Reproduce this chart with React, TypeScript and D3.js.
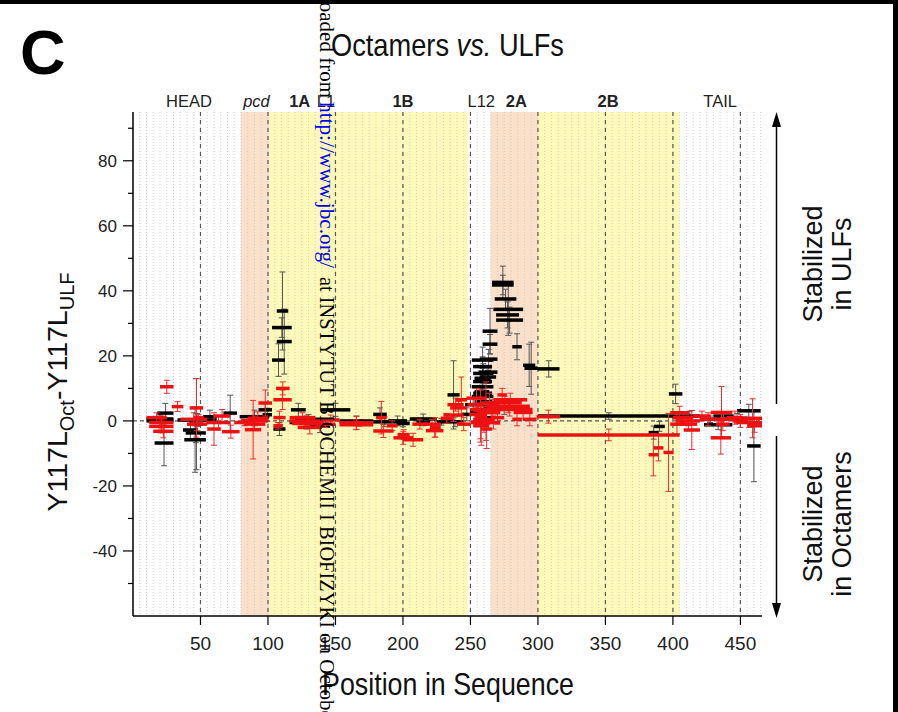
import React from 'react';
import * as d3 from 'd3';

// ---------- data ----------
// [start residue, end residue, difference value, error]
const octBlack: [number, number, number, number][] = [
  [10, 30, 0.6, 2], [10, 30, 0, 1.5], [18, 30, 2.4, 3], [16, 30, -6.8, 7],
  [33, 62, 0.3, 2], [37, 48, -2.8, 3], [39, 54, -3.7, 3], [38, 54, -5.8, 10],
  [52, 62, 1.3, 2], [42, 52, -1, 14], [67, 77, 2.4, 5.5], [79, 101, 1.3, 2],
  [93, 103, 3.4, 2], [96, 103, 1.9, 2],
  [106.5, 115, 33.8, 12], [103, 117.6, 28.7, 3], [106.5, 117.6, 24.4, 10], [103, 112.6, 18.7, 5],
  [104, 113, -2.5, 2], [117, 128, 3.4, 2], [116, 141, -0.5, 2], [131, 146, -1.6, 2],
  [139, 161, 3.4, 2], [120, 140, 0.5, 1.5],
  [153, 178, 0, 1.5], [178, 188, 2, 2], [178, 195, -0.3, 1.5], [189, 203, 0, 1.5],
  [195, 205, -0.8, 1], [205, 225, 0.6, 1.5], [210, 220, -0.5, 1], [225, 232, -0.3, 1],
  [232, 245, -0.3, 1.5], [233, 242, 8, 10.5], [243.6, 251, 2, 2], [160, 175, -0.6, 1],
  [251, 267, 18.7, 4], [252, 266, 16.7, 3], [252, 267, 14.6, 3], [253, 265, 13.1, 3],
  [252, 266, 12.1, 2], [251, 267, 10.5, 3], [253, 264, 9, 2], [252, 266, 8.5, 2],
  [251, 267, 7.5, 2], [253, 266, 5.9, 2], [259, 270, 27.6, 7], [259, 270, 23.6, 3],
  [257, 270, 19, 3], [256, 270, 15, 2], [257, 269, 13.5, 2],
  [266, 282, 42.6, 5], [266, 282, 41.8, 3], [268, 284, 37.5, 3], [267, 289, 34.3, 8],
  [269, 286, 32.6, 4], [269, 289, 31, 4], [281, 288, 22.8, 4], [289, 298, 17.1, 6.5],
  [290, 300, 16.2, 8], [300, 316, 16, 2.5], [268, 282, 4, 2], [250, 262, 3, 2],
  [255, 268, 1, 2], [260, 272, 4.5, 2], [246, 258, 5, 2],
  [300, 405, 1.5, 1], [386, 394, -1.7, 1.5], [382, 389.5, -3.6, 2], [397, 407, 8.3, 3],
  [405, 420, 1.5, 1.5], [423, 444, -1.2, 1.5], [420, 435, 0.5, 1], [447.5, 465, 3.1, 2],
  [455, 465, -7.7, 11], [440, 455, 0.8, 1.5], [430, 445, 1.5, 1],
];

const ulfRed: [number, number, number, number][] = [
  [20, 30, 10.5, 2], [12, 30, -0.5, 2], [12, 30, -1.7, 2], [15, 30, -3.2, 2],
  [10, 25, 1, 1.5], [28.7, 37.3, 4.4, 1.5], [42, 52, 4, 9], [35, 55, 0.5, 2],
  [40, 55, -1, 2], [54.6, 72, -0.5, 2], [66, 79, -3.3, 2], [55, 65, -2.5, 5],
  [60, 72, 1.5, 2], [80, 100, 0, 1.5], [82, 98, -1, 1.5], [83, 95, -2.7, 9],
  [93, 103, 5.5, 4], [85, 100, 0.8, 2], [75, 90, -0.5, 1], [45, 52, 1, 1],
  [104, 117.6, 6.5, 3], [106, 116, 10, 2], [104, 113, 1, 2], [104, 111, -1.5, 1],
  [116, 141, 0, 1.5], [116, 135, 1, 1.5], [118, 141, -0.8, 1.5], [122, 140, -2, 2],
  [135, 150, -1, 1], [140, 153, 0.3, 1.5],
  [153, 178, -0.6, 2], [153, 178, -1.2, 1.5], [178, 193, -3.1, 2], [180, 188, 1, 5],
  [188, 196, -1.5, 1.5], [193, 207.5, -5.2, 2], [196, 205, -4.2, 1.5], [200, 215, -5.8, 2],
  [207, 218, -1, 1.5], [215, 228, -1, 1.5], [217, 230, -3, 2], [220, 228, -2, 3],
  [228, 237, 0.8, 1.5], [230, 245, 1.8, 2], [235, 247.5, 4, 2], [239, 247.5, 6.5, 7],
  [233, 245, 5, 2], [240, 250, -1, 2],
  [247, 262, 7, 3], [248, 260, 5, 2], [250, 265, 3.5, 2], [249, 262, 2, 3],
  [252, 268, 0.5, 4], [250, 265, -0.5, 5], [252, 264, -1.5, 6], [255, 268, 3, 9],
  [253, 262, 1.5, 8], [258, 270, 5.5, 3], [260, 272, 2.5, 3], [262, 272, -0.5, 2],
  [270, 277, 8, 2], [267, 292, 6.5, 2], [263, 288, 5.6, 2], [262, 294, 4.5, 2],
  [262, 296, 3.5, 2], [282, 296, 2.6, 2], [281, 288, 0.5, 2], [289, 299, 0.5, 2],
  [299, 316.5, 1.3, 2], [300, 405, -4.3, 1.8], [258, 266, -2.5, 6], [265, 275, 1, 2],
  [385.6, 393, -8.3, 4], [382, 389, -10.4, 6.5], [393, 400.5, -9.7, 12], [398, 412, 2.5, 2],
  [400, 415, 1, 1.5], [402, 420, 0, 1.5], [405, 418, -1, 2], [408, 420, -2.8, 6],
  [415, 428, 1.5, 1.5], [420, 432, 0.5, 2], [428, 444, 2.6, 8], [428, 443, -5.2, 5],
  [430, 445, 0.5, 2], [432, 442, -1, 2], [440, 452, 1, 2], [444, 456, 0, 2],
  [447, 466, -0.5, 1.5], [452, 466, 0.8, 6], [455, 466, -1.5, 2], [398, 408, -1, 3],
];

const xTicks = [50, 100, 150, 200, 250, 300, 350, 400, 450];
const yMajorTicks = [-40, -20, 0, 20, 40, 60, 80];
const yMinorTicks = [-50, -30, -10, 10, 30, 50, 70, 90];

const shadeStart = [80, 101, 265, 300];
const shadeEnd = [101, 248, 300, 405];
const shadeKind = ['peach', 'yellow', 'peach', 'yellow'];

const regionLabels = ['HEAD', 'pcd', '1A', 'L1', '1B', 'L12', '2A', '2B', 'TAIL'];
const regionLabelRes = [41.5, 91.5, 123.5, 143, 200, 258, 284, 352, 435];
const regionStyle = ['n', 'i', 'b', 'n', 'b', 'n', 'b', 'b', 'n'];

const FONT = '"Liberation Sans", Arial, Helvetica, sans-serif';
const SERIF = '"Liberation Serif", "Times New Roman", serif';

export default function App() {
  const x = d3.scaleLinear().domain([0, 466]).range([133, 762]);
  const y = d3.scaleLinear().domain([-60, 95]).range([616, 112]);
  const [y0, y1] = [y(95), y(-60)];
  const fine = d3.range(0, 467, 5);
  const colors: Record<string, string> = { peach: '#fae0c9', yellow: '#fcf9b9' };

  const series = (data: [number, number, number, number][], bar: string, err: string, key: string) => (
    <g key={key}>
      {data.map((d, i) => {
        const cx = x((d[0] + d[1]) / 2);
        return (
          <g key={i}>
            <line x1={cx} x2={cx} y1={y(d[2] - d[3])} y2={y(d[2] + d[3])} stroke={err} strokeWidth={1} />
            <line x1={cx - 3} x2={cx + 3} y1={y(d[2] - d[3])} y2={y(d[2] - d[3])} stroke={err} strokeWidth={1} />
            <line x1={cx - 3} x2={cx + 3} y1={y(d[2] + d[3])} y2={y(d[2] + d[3])} stroke={err} strokeWidth={1} />
          </g>
        );
      })}
      {data.map((d, i) => (
        <line key={'b' + i} x1={x(d[0])} x2={x(d[1])} y1={y(d[2])} y2={y(d[2])} stroke={bar} strokeWidth={3.5} />
      ))}
    </g>
  );

  return (
    <svg width={898} height={712} style={{ position: 'absolute', left: 0, top: 0, background: '#fff' }} fontFamily={FONT}>
      <rect x={0} y={0} width={898} height={712} fill="#fff" />
      {shadeStart.map((s, i) => (
        <rect key={i} x={x(s)} y={y0} width={x(shadeEnd[i]) - x(s)} height={y1 - y0} fill={colors[shadeKind[i]]} />
      ))}
      {fine.map((v) => (
        <line key={v} x1={x(v)} x2={x(v)} y1={y0} y2={y1} stroke="#c4c4c4" strokeWidth={0.8} strokeDasharray="1,2" />
      ))}
      {xTicks.map((v) => (
        <line key={'m' + v} x1={x(v)} x2={x(v)} y1={y0} y2={y1} stroke="#555" strokeWidth={1.2} strokeDasharray="4,4" />
      ))}
      <line x1={x(0)} x2={x(466)} y1={y(0)} y2={y(0)} stroke="#555" strokeWidth={1.2} strokeDasharray="4,3" />

      {series(octBlack, '#000', '#555', 'blk')}
      {series(ulfRed, '#ee1111', '#e83030', 'red')}

      <line x1={133} x2={133} y1={y0} y2={y1} stroke="#000" strokeWidth={1.5} />
      <line x1={133} x2={762} y1={y1} y2={y1} stroke="#000" strokeWidth={1.5} />
      {yMajorTicks.map((v) => (
        <g key={v}>
          <line x1={123} x2={133} y1={y(v)} y2={y(v)} stroke="#000" strokeWidth={1.2} />
          <text x={117} y={y(v) + 6} textAnchor="end" fontSize={17} fill="#222">{v}</text>
        </g>
      ))}
      {yMinorTicks.map((v) => (
        <line key={v} x1={128} x2={133} y1={y(v)} y2={y(v)} stroke="#000" strokeWidth={1.2} />
      ))}
      {xTicks.map((v) => (
        <g key={v}>
          <line x1={x(v)} x2={x(v)} y1={y1} y2={y1 + 9} stroke="#000" strokeWidth={1.2} />
          <text x={x(v)} y={y1 + 34} textAnchor="middle" fontSize={19} fill="#222">{v}</text>
        </g>
      ))}

      {regionLabels.map((t, i) => (
        <text key={t} x={x(regionLabelRes[i])} y={107} textAnchor="middle" fontSize={16.5}
          fontWeight={regionStyle[i] === 'b' ? 'bold' : 'normal'} fontStyle={regionStyle[i] === 'i' ? 'italic' : 'normal'} fill="#222">{t}</text>
      ))}

      <text x={20} y={74} fontSize={63} fontWeight="bold" fill="#000">C</text>
      <text transform="translate(331,56) scale(0.851,1)" fontSize={32} fill="#111">
        Octamers <tspan fontStyle="italic">vs.</tspan> ULFs
      </text>
      <text transform="translate(448,695) scale(0.838,1)" fontSize={32} fill="#111" textAnchor="middle">Position in Sequence</text>
      <text transform="translate(67,392) rotate(-90)" textAnchor="middle" fontSize={28.5} fill="#111">
        Y117L<tspan fontSize={20} dy={7}>Oct</tspan><tspan dy={-7}>-Y117L</tspan><tspan fontSize={20} dy={7}>ULF</tspan>
      </text>

      <line x1={776.5} x2={776.5} y1={124} y2={404} stroke="#000" strokeWidth={1.5} />
      <path d="M776.5,112 L772,127 L781,127 Z" fill="#000" />
      <line x1={776.5} x2={776.5} y1={436} y2={606} stroke="#000" strokeWidth={1.5} />
      <path d="M776.5,618 L772,603 L781,603 Z" fill="#000" />
      <text transform="translate(822,264) rotate(-90)" textAnchor="middle" fontSize={27} fill="#111">Stabilized</text>
      <text transform="translate(851,264) rotate(-90)" textAnchor="middle" fontSize={27} fill="#111">in ULFs</text>
      <text transform="translate(822,524) rotate(-90)" textAnchor="middle" fontSize={27} fill="#111">Stabilized</text>
      <text transform="translate(851,524) rotate(-90)" textAnchor="middle" fontSize={27} fill="#111">in Octamers</text>

      <g transform="translate(320,0) rotate(90)" fontFamily={SERIF} fontSize={21} fill="#000">
        <text x={98} y={0} textAnchor="end">Downloaded from</text>
        <text x={102} y={0} fill="#0000ee" textLength={166} lengthAdjust="spacingAndGlyphs">http://www.jbc.org/</text>
        <text x={277} y={0} textLength={351} lengthAdjust="spacingAndGlyphs">at INSTYTUT BIOCHEMII I BIOFIZYKI</text>
        <text x={633} y={0}>on October 19, 2016</text>
      </g>

      <rect x={0} y={0} width={898} height={4} fill="#000" />
      <rect x={893} y={0} width={5} height={712} fill="#000" />
    </svg>
  );
}
